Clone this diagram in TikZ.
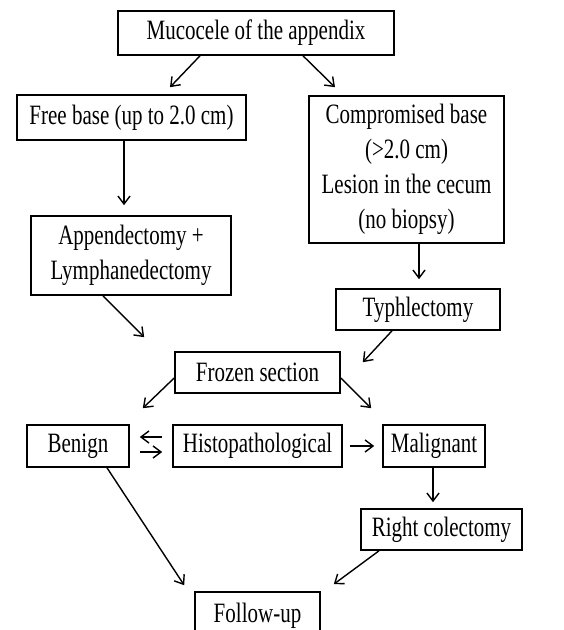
\documentclass[tikz,border=0pt]{standalone}
\usepackage{fontspec}
\setmainfont{Liberation Serif}[FakeStretch=0.75]
\usetikzlibrary{arrows.meta}

\begin{document}
\begin{tikzpicture}[x=1pt,y=-1pt,
        box/.style={draw,black,line width=1.6pt,align=center,inner sep=0pt,font=\fontsize{28}{35}\selectfont},
        link/.style={black,line width=1.4pt,->},
        >={Straight Barb[length=8pt,width=12pt,line width=1.4pt]}]
        \useasboundingbox (0,0) rectangle (563,630);
        \node[box,minimum width=276pt,minimum height=44pt] (mucocele) at (256,33) {Mucocele of the appendix};
        \node[box,minimum width=229pt,minimum height=45pt] (free) at (131.5,117.5) {Free base (up to 2.0 cm)};
        \node[box,minimum width=195pt,minimum height=147pt] (comp) at (406.5,169.5) {Compromised base\\(>2.0 cm)\\Lesion in the cecum\\(no biopsy)};
        \node[box,minimum width=200pt,minimum height=79pt] (append) at (131,255.5) {Appendectomy +\\Lymphanedectomy};
        \node[box,minimum width=164pt,minimum height=41pt] (typhl) at (418,309.5) {Typhlectomy};
        \node[box,minimum width=165pt,minimum height=41pt] (frozen) at (257.5,372.5) {Frozen section};
        \node[box,minimum width=102pt,minimum height=42pt] (benign) at (78,446) {Benign};
        \node[box,minimum width=169pt,minimum height=42pt] (histo) at (257.5,446) {Histopathological};
        \node[box,minimum width=102pt,minimum height=42pt] (malign) at (434,446) {Malignant};
        \node[box,minimum width=161pt,minimum height=41pt] (colect) at (441.5,529.5) {Right colectomy};
        \node[box,minimum width=125pt,minimum height=48pt] (follow) at (257.5,616) {Follow-up};
        \draw[link] ([xshift=-56pt]mucocele.south) -- ([xshift=38.5pt,yshift=7pt]free.north); % 1
        \draw[link] ([xshift=47pt]mucocele.south) -- ([xshift=-71.5pt,yshift=8pt]comp.north); % 2
        \draw[link] ([xshift=-7.5pt]free.south) -- ([xshift=-7pt,yshift=10pt]append.north); % 3
        \draw[link] ([xshift=12.5pt]comp.south) -- ([xshift=1pt,yshift=9pt]typhl.north); % 4
        \draw[link] ([xshift=-28pt]append.south) -- ([xshift=-30pt,yshift=14pt]frozen.north west); % 5
        \draw[link] ([xshift=-26pt]typhl.south) -- ([xshift=22pt,yshift=-11pt]frozen.north east); % 6
        \draw[link] ([yshift=-5.5pt]frozen.west) -- ([xshift=13pt,yshift=16pt]benign.north east); % 7
        \draw[link] ([yshift=-5.5pt]frozen.east) -- ([xshift=-11pt,yshift=16pt]malign.north west); % 8
        \draw[link] ([xshift=-10pt,yshift=9pt]histo.west) -- ([xshift=10pt,yshift=9pt]benign.east); % 9
        \draw[link] ([xshift=10pt,yshift=-6pt]benign.east) -- ([xshift=-10pt,yshift=-6pt]histo.west); % 10
        \draw[link] ([xshift=7pt]histo.east) -- ([xshift=-8pt]malign.west); % 11
        \draw[link] ([xshift=-1pt]malign.south) -- ([xshift=-8.5pt,yshift=6pt]colect.north); % 12
        \draw[link] ([xshift=29pt]benign.south) -- ([xshift=-10pt,yshift=6pt]follow.north west); % 13
        \draw[link] ([xshift=-62.5pt]colect.south) -- ([xshift=13pt,yshift=7pt]follow.north east); % 14
    \end{tikzpicture}
\end{document}
